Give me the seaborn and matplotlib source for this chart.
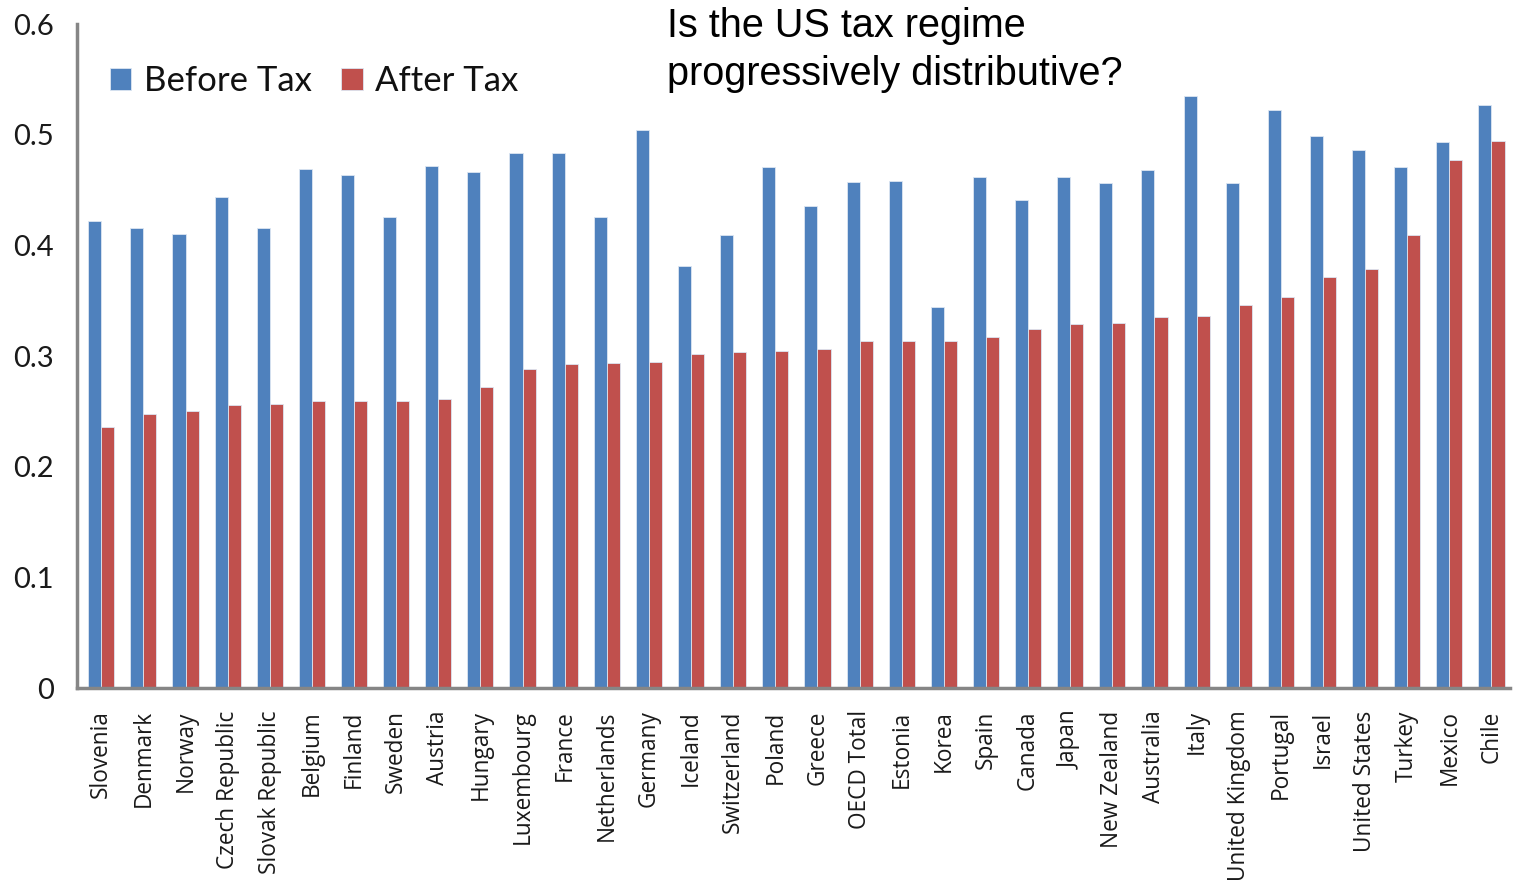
import numpy as np
import pandas as pd
import matplotlib
matplotlib.use("Agg")
import matplotlib.pyplot as plt
import seaborn as sns

countries = ["Slovenia", "Denmark", "Norway", "Czech Republic", "Slovak Republic",
             "Belgium", "Finland", "Sweden", "Austria", "Hungary", "Luxembourg",
             "France", "Netherlands", "Germany", "Iceland", "Switzerland", "Poland",
             "Greece", "OECD Total", "Estonia", "Korea", "Spain", "Canada", "Japan",
             "New Zealand", "Australia", "Italy", "United Kingdom", "Portugal",
             "Israel", "United States", "Turkey", "Mexico", "Chile"]
before_tax = [0.422, 0.416, 0.410, 0.444, 0.416, 0.469, 0.464, 0.426, 0.472, 0.466,
              0.483, 0.483, 0.426, 0.504, 0.381, 0.409, 0.471, 0.436, 0.457, 0.458,
              0.344, 0.462, 0.441, 0.462, 0.456, 0.468, 0.535, 0.456, 0.522, 0.499,
              0.486, 0.471, 0.493, 0.527]
after_tax = [0.236, 0.248, 0.250, 0.256, 0.257, 0.259, 0.259, 0.259, 0.261, 0.272,
             0.288, 0.293, 0.294, 0.295, 0.302, 0.304, 0.305, 0.306, 0.314, 0.314,
             0.314, 0.317, 0.324, 0.329, 0.330, 0.335, 0.336, 0.346, 0.353, 0.371,
             0.379, 0.409, 0.477, 0.494]
series = ["Before Tax", "After Tax"]
yticks = [0, 0.1, 0.2, 0.3, 0.4, 0.5, 0.6]
ytick_labels = ["0", "0.1", "0.2", "0.3", "0.4", "0.5", "0.6"]

df = pd.DataFrame({"country": countries * 2,
                   "gini": before_tax + after_tax,
                   "kind": [series[0]] * len(countries) + [series[1]] * len(countries)})

sns.set_style("white")
plt.rcParams["font.family"] = ["Lato", "DejaVu Sans"]

fig, ax = plt.subplots(figsize=(15.15, 8.89), dpi=100)
sns.barplot(data=df, x="country", y="gini", hue="kind", order=countries,
            hue_order=series, palette=["#4F81BD", "#C0504D"], width=0.62,
            edgecolor="#dce6f2", linewidth=0.6, saturation=1, ax=ax)

ax.set_ylim(0, 0.6)
ax.set_xlim(-0.57, len(countries) - 1 + 0.45)
ax.set_yticks(yticks)
ax.set_yticklabels(ytick_labels, fontsize=21, color="#1a1a1a")
ax.tick_params(axis="y", length=0, pad=17)
ax.tick_params(axis="x", length=0, pad=16)
plt.setp(ax.get_xticklabels(), rotation=90, va="top", ha="center",
         fontsize=16.3, family=["Open Sans", "DejaVu Sans"], color="#1a1a1a")
ax.set_xlabel("")
ax.set_ylabel("")

sns.despine(ax=ax)
for s in ["left", "bottom"]:
    ax.spines[s].set_color("#868686")
    ax.spines[s].set_linewidth(2.5)

ax.legend(loc="center left", bbox_to_anchor=(0.0104, 0.914), ncol=2, frameon=False,
          fontsize=25, borderpad=0, handlelength=0.63, handleheight=0.63,
          handletextpad=0.35, columnspacing=0.86, labelcolor="#111111")

fig.text(0.44, 0.992, "Is the US tax regime\nprogressively distributive?",
         ha="left", va="top", fontsize=28.5, color="black",
         family=["Liberation Sans", "DejaVu Sans"], linespacing=1.32)

plt.subplots_adjust(left=0.051, right=0.997, top=0.973, bottom=0.226)
fig.savefig("out.png", dpi=100)
